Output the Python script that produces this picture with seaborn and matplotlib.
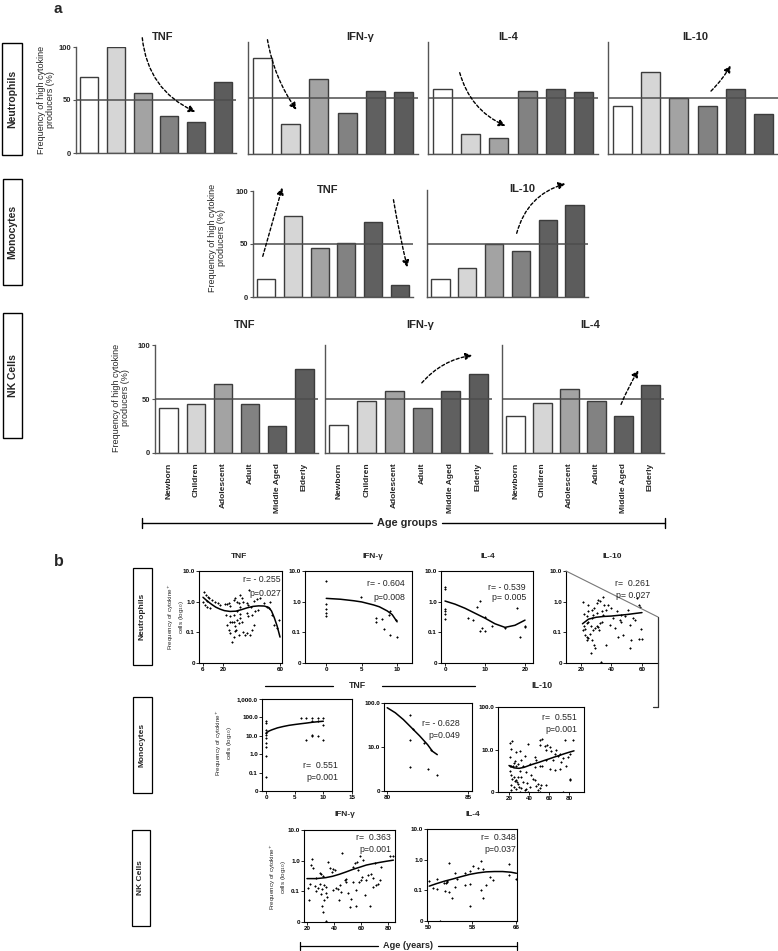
import numpy as np
import pandas as pd
import matplotlib
matplotlib.use("Agg")
import matplotlib.pyplot as plt
import seaborn as sns
from matplotlib.patches import Rectangle, FancyArrowPatch
from matplotlib.lines import Line2D

sns.set_theme(style="white")
plt.rcParams['font.family'] = ['Liberation Sans', 'DejaVu Sans']

# ---------------- data : panel a ----------------
age_groups = ["Newborn", "Children", "Adolescent", "Adult", "Middle Aged", "Elderly"]
bar_colors = ["#ffffff", "#d6d6d6", "#a3a3a3", "#828282", "#606060", "#5c5c5c"]
threshold = 50
neut_tnf = [72, 100, 57, 35, 29, 67]
neut_ifn = [86, 27, 67, 37, 56, 55]
neut_il4 = [58, 18, 14, 56, 58, 55]
neut_il10 = [43, 73, 50, 43, 58, 36]
mono_tnf = [17, 76, 46, 51, 71, 11]
mono_il10 = [17, 27, 50, 43, 72, 86]
nk_tnf = [42, 45, 64, 45, 25, 78]
nk_ifn = [26, 48, 57, 42, 57, 73]
nk_il4 = [34, 46, 59, 48, 34, 63]
pct_ticks = [0, 50, 100]

# ---------------- data : panel b ----------------
# Neutrophils TNF
nt_age = [7.0, 8.1, 9.3, 10.5, 6.3, 7.4, 9.1, 10.9, 8.6, 12.1, 14.5, 16.8, 18.0, 21.5, 22.7, 23.9, 25.0,
          27.4, 28.6, 29.7, 30.9, 31.6, 32.1, 33.2, 34.4, 36.8, 37.9, 39.6, 41.5, 43.8, 46.2, 48.5, 50.9,
          52.0, 53.2, 54.4, 55.5, 57.9, 59.1, 22.2, 22.7, 23.9, 25.0, 26.2, 27.4, 28.6, 29.3, 29.7, 30.9,
          32.1, 33.2, 34.4, 35.6, 36.8, 39.1, 40.3, 41.5, 25.0, 26.2, 27.4, 28.6, 30.9, 37.9, 32.1, 36.8,
          40.3, 42.7, 44.3, 29.7, 27.4, 25.0, 38.5]
nt_val = [2.03, 1.66, 1.39, 1.29, 1.01, 0.79, 0.69, 0.61, 1.09, 1.14, 1.01, 0.89, 0.79, 0.83, 0.85, 0.89, 0.73,
          1.14, 1.29, 1.01, 0.89, 0.69, 1.66, 1.29, 1.01, 0.89, 0.79, 0.69, 1.09, 1.2, 1.29, 0.89, 0.69,
          0.61, 1.01, 0.37, 0.176, 0.137, 0.255, 0.37, 0.176, 0.121, 0.225, 0.21, 0.225, 0.155, 0.121, 0.255, 0.2,
          0.29, 0.225, 0.099, 0.083, 0.094, 0.083, 0.121, 0.176, 0.094, 0.05, 0.073, 0.107, 0.083, 0.33, 0.40, 0.42,
          0.37, 0.48, 0.54, 0.48, 0.37, 0.33, 2.4]
nt_fit_age = [6, 9, 12, 15, 18, 21, 25, 29, 33, 37, 41, 45, 49, 52, 54, 56, 58, 60]
nt_fit_val = [1.39, 1.05, 0.82, 0.66, 0.57, 0.51, 0.48, 0.49, 0.55, 0.63, 0.7, 0.73, 0.72, 0.65, 0.5, 0.3, 0.16, 0.07]

# Neutrophils IFN-g
ni_age = [0, 0, 0, 0, 0, 7, 7, 7.9, 8.1, 8.8, 9, 9, 9.8, 10, 4.9]
ni_val = [4.7, 0.85, 0.58, 0.44, 0.35, 0.29, 0.22, 0.27, 0.126, 0.36, 0.5, 0.079, 0.26, 0.069, 1.38]
ni_fit_age = [0, 2, 3.9, 5, 6.7, 7.5, 8.6, 9.3, 10]
ni_fit_val = [1.28, 1.2, 1.07, 0.98, 0.78, 0.68, 0.5, 0.38, 0.22]

# Neutrophils IL-4
n4_age = [0, 0, 0, 0, 0, 0, 5.8, 7.1, 7.9, 8.75, 8.75, 9.2, 10, 10, 11.7, 15, 17.9, 18.75, 20, 20]
n4_val = [3.1, 2.54, 0.57, 0.48, 0.40, 0.27, 0.29, 0.255, 0.69, 1.09, 0.107, 0.137, 0.107, 0.31, 0.163,
          0.137, 0.61, 0.073, 0.163, 0.144]
n4_fit_age = [0, 2.5, 5, 7.5, 10, 12.5, 15, 17.5, 20]
n4_fit_val = [1.05, 0.83, 0.61, 0.42, 0.29, 0.19, 0.145, 0.17, 0.25]

# Neutrophils IL-10
n10_age = [21.5, 24.3, 22.2, 24.8, 27.0, 28.7, 30.2, 31.3, 32.4, 34.6, 35.2, 33.5, 30.2, 28.0, 27.0, 24.8,
           23.7, 22.2, 21.1, 22.6, 23.7, 24.8, 25.9, 27.0, 28.0, 29.1, 30.2, 31.3, 32.0, 32.4, 33.5, 28.5,
           26.3, 29.1, 36.7, 37.8, 40.0, 41.1, 43.3, 44.3, 45.4, 46.5, 47.6, 48.7, 50.9, 52.0, 53.0, 54.1,
           55.2, 56.7, 58.5, 59.6, 58.0, 59.8, 52.0, 46.5, 36.7, 34.6, 38.9, 42.2, 23.7, 26.3, 22.8, 24.1,
           33.3, 58.0]
n10_val = [1.01, 0.79, 0.40, 0.48, 0.52, 0.61, 0.89, 1.14, 1.09, 1.39, 0.79, 0.48, 0.42, 0.37, 0.29, 0.225,
           0.2, 0.163, 0.121, 0.083, 0.073, 0.065, 0.086, 0.057, 0.121, 0.137, 0.163, 0.15, 0.121, 0.2, 0.225, 0.039,
           0.021, 0.031, 0.54, 0.79, 0.61, 0.29, 0.48, 0.073, 0.255, 0.37, 0.083, 0.33, 0.54, 0.176, 0.057, 0.29,
           0.255, 1.29, 0.69, 0.127, 0.062, 0.062, 0.031, 0.225, 0.039, 0.37, 0.176, 0.137, 0.33, 0.163, 0.127, 0.057,
           0.011, 0.79]
n10_fit_age = [21, 25, 30, 35, 40, 45, 50, 55, 60]
n10_fit_val = [0.19, 0.27, 0.31, 0.33, 0.34, 0.36, 0.38, 0.41, 0.44]

# Monocytes TNF (young)
mt_age = [0, 0, 0, 0, 0, 0, 0, 0, 0, 0, 6.1, 7, 8, 8, 9, 9, 9.9, 9.9, 7, 8.1, 8.1, 9.1, 10]
mt_val = [66, 49, 21, 14, 11.3, 7.5, 4.0, 2.6, 0.81, 0.056, 92, 92, 92, 60, 92, 60, 92, 40, 5.6, 10.5, 9.2,
          9.2, 6.05]
mt_fit_age = [0, 0.5, 1, 2, 3, 4, 5, 6, 7, 8, 9, 10]
mt_fit_val = [14, 18, 21, 27, 32, 37, 41, 45, 49, 54, 58, 62]

# Monocytes TNF (elderly)
me_age = [81.4, 81.6, 81.4, 82.25, 82.7, 81.4, 82.5, 83.1]
me_val = [52, 26, 14.7, 12.4, 8.7, 3.6, 3.1, 2.3]
me_fit_age = [80, 80.5, 81, 81.5, 82, 82.5, 82.8, 83.1]
me_fit_val = [78, 60, 42, 27.5, 18, 11.3, 8.0, 6.7]

# Monocytes IL-10
m10_age = [20.7, 23.3, 22.3, 21.3, 20.7, 22.3, 24, 24.7, 25.7, 27.3, 29, 21.3, 22.3, 23.3, 24.7, 25.7, 26.7,
           28, 29, 22.3, 24.7, 26.7, 30, 32.3, 35.7, 37.3, 40.7, 22.3, 30.7, 39, 49, 50.7, 30.7, 32.3, 34,
           36.7, 38, 42.3, 44, 45.7, 47.3, 49, 50.7, 52.3, 56.7, 27.3, 31.3, 35.7, 39, 45.7, 47.3, 50.7, 51.3,
           53.3, 55.7, 57.3, 58, 60.7, 62.3, 64, 65.7, 67.3, 69, 70.7, 72.3, 74, 75.7, 76.7, 79, 80.7, 81.3,
           84, 56.7, 50.7, 53.3, 60.7, 65.7, 70.7, 29, 34, 32.3, 40.7, 45.7, 74, 81.3]
m10_val = [14.2, 15.8, 10.5, 6.7, 4.2, 4.1, 4.2, 4.8, 5.4, 4.2, 4.6, 3.2, 2.5, 2.06, 2.25, 1.8, 1.95,
           1.72, 1.57, 1.44, 1.31, 1.2, 1.31, 1.26, 1.09, 1.2, 1.31, 1.09, 1.0, 1.0, 1.09, 1.0, 3.1, 2.25, 1.72,
           2.95, 1.63, 2.5, 2.06, 1.88, 1.36, 1.57, 1.26, 1.44, 1.49, 8.7, 9.2, 6.9, 13.7, 6.7, 5.8, 12.5, 16.4,
           18, 11.9, 9.55, 12.5, 11.5, 9.2, 5.6, 8.0, 9.55, 6.9, 8.0, 5.1, 6.4, 16.4, 4.2, 6.7, 2.06, 8.0,
           16.4, 5.6, 4.2, 4.2, 3.5, 3.35, 3.5, 2.25, 4.2, 5.6, 4.6, 3.9, 1.0, 1.95]
m10_fit_age = [20, 25, 30, 35, 40, 45, 50, 55, 60, 65, 70, 75, 80, 85]
m10_fit_val = [4.2, 3.7, 3.6, 3.8, 4.2, 4.6, 5.0, 5.5, 6.0, 6.6, 7.2, 7.9, 8.6, 9.3]

# NK cells IFN-g
ki_age = [20.7, 21.5, 22.5, 23.2, 24, 24.4, 25.7, 26.4, 26.9, 28.1, 29.4, 29.9, 30.6, 31.4, 31.9, 32.3, 33.8,
          34.3, 34.8, 30.6, 31.4, 31.9, 32.3, 34.3, 35.6, 36.8, 38.8, 39.3, 40.5, 41.7, 43, 43.7, 44.7, 45.4,
          46.2, 47.9, 49.1, 50.4, 51.6, 52.8, 54.1, 55.3, 56, 56.5, 57, 57.8, 58.5, 59, 60.2, 61, 61.5, 64,
          65.2, 66.4, 67.7, 68.9, 70.1, 71.4, 72.6, 73.8, 75.1, 81.2, 83.7, 39.3, 49.1, 54.1, 62.7, 68.9]
ki_val = [0.133, 0.054, 0.17, 0.72, 1.1, 0.56, 0.147, 0.104, 0.28, 0.124, 0.18, 0.40, 0.36, 0.115, 0.31, 0.16,
          0.14, 0.089, 0.063, 0.081, 0.033, 0.021, 0.051, 0.011, 0.92, 0.56, 0.43, 0.52, 0.49, 0.133, 0.115,
          0.051, 0.16, 0.096, 1.73, 0.23, 0.2, 0.085, 0.031, 0.058, 0.63, 0.85, 0.033, 0.109, 0.92, 0.49, 0.2,
          1.41, 0.23, 0.30, 1.04, 0.23, 0.34, 0.033, 0.36, 0.14, 0.85, 0.16, 0.18, 0.23, 0.63, 1.41, 1.41,
          0.109, 0.26, 0.2, 0.075, 0.28]
ki_fit_age = [20, 27, 34, 39, 44, 49, 54, 59, 64, 69, 74, 79, 84]
ki_fit_val = [0.26, 0.26, 0.28, 0.31, 0.36, 0.43, 0.52, 0.61, 0.72, 0.8, 0.88, 0.96, 1.04]

# NK cells IL-4
k4_age = [50.2, 50.8, 51.6, 51.6, 52.1, 52.9, 53, 53.4, 53.8, 53.8, 54.3, 54.9, 54.9, 55.2, 56.7, 56.7, 57.5,
          57.6, 57.6, 58.1, 59, 59.5, 59.5, 59.9, 59.9, 60.4, 61.3, 61.8, 64.6, 64.6, 66, 53.2, 53.5]
k4_val = [0.2, 0.122, 0.23, 0.107, 0.01, 0.168, 0.097, 0.19, 0.76, 0.09, 0.058, 0.36, 0.124, 0.228, 0.36,
          0.148, 0.43, 0.156, 0.03, 0.64, 0.55, 0.102, 0.93, 0.058, 0.50, 0.148, 0.28, 0.21, 0.71, 0.32, 0.228,
          0.177, 0.2]
k4_fit_age = [50.2, 51.5, 53, 54.5, 56, 57.5, 59, 60.5, 62, 63.5, 65, 66]
k4_fit_val = [0.137, 0.165, 0.2, 0.235, 0.28, 0.33, 0.37, 0.4, 0.41, 0.41, 0.39, 0.36]

log_ticks_small = [0.01, 0.1, 1, 10]
log_labels_small = ["0", "0.1", "1.0", "10.0"]
log_ticks_big = [0.01, 0.1, 1, 10, 100, 1000]
log_labels_big = ["0", "0.1", "1.0", "10.0", "100.0", "1,000.0"]
log_ticks_mid = [1, 10, 100]
log_labels_mid = ["0", "10.0", "100.0"]

# ---------------- figure helpers ----------------
W, H = 778, 951
fig = plt.figure(figsize=(W / 100, H / 100), dpi=100)
fig.patch.set_facecolor("white")


def px_ax(l, t, r, b):
    return fig.add_axes([l / W, 1 - b / H, (r - l) / W, (b - t) / H])


def ftxt(x, y, s, **kw):
    kw.setdefault('ha', 'center')
    kw.setdefault('va', 'center')
    return fig.text(x / W, 1 - y / H, s, **kw)


def fline(xs, ys, **kw):
    kw.setdefault('color', 'black')
    kw.setdefault('lw', 1)
    fig.add_artist(Line2D([x / W for x in xs], [1 - y / H for y in ys], transform=fig.transFigure, **kw))


def fbox(l, t, r, b, lw=1.0):
    fig.add_artist(Rectangle((l / W, 1 - b / H), (r - l) / W, (b - t) / H, transform=fig.transFigure,
                             fill=False, edgecolor='black', lw=lw))


def farrow(x1, y1, x2, y2, rad):
    fig.add_artist(FancyArrowPatch((x1 / W, 1 - y1 / H), (x2 / W, 1 - y2 / H), transform=fig.transFigure,
                                   arrowstyle='-|>', mutation_scale=10,
                                   connectionstyle=f'arc3,rad={rad}', linestyle=(0, (2.2, 1.6)),
                                   lw=1.0, color='black'))


def bar_panel(box, vals, first=False, xlabels=False):
    ax = px_ax(*box)
    df = pd.DataFrame({'group': age_groups, 'pct': vals})
    sns.barplot(data=df, x='group', y='pct', hue='group', palette=bar_colors, legend=False,
                width=0.68, saturation=1, edgecolor='#3c3c3c', linewidth=1.0, ax=ax)
    ax.axhline(threshold, color='#4d4d4d', lw=1.1, zorder=5)
    ax.set_xlim(-0.5, 5.5)
    ax.set_ylim(0, 100)
    ax.set_xlabel('')
    ax.set_ylabel('')
    ax.set_facecolor('none')
    for s in ['top', 'right']:
        ax.spines[s].set_visible(False)
    for s in ['left', 'bottom']:
        ax.spines[s].set_color('#555555')
        ax.spines[s].set_linewidth(1.0)
    if first:
        ax.set_yticks(pct_ticks)
        ax.set_yticklabels([str(v) for v in pct_ticks], fontsize=5.5, fontweight='bold')
        ax.tick_params(axis='y', length=2.5, width=0.8, pad=1, left=True, color='#555555')
    else:
        ax.set_yticks([])
    if xlabels:
        ax.set_xticks(range(len(age_groups)))
        ax.set_xticklabels(age_groups, rotation=90, fontsize=6, fontweight='bold', va='top')
        ax.tick_params(axis='x', length=0, pad=7)
    else:
        ax.set_xticks([])
    return ax


def scatter_panel(box, x, y, fx, fy, xlim, ylim, xticks, yticks, yticklabels, full_box=True):
    ax = px_ax(*box)
    sns.scatterplot(x=x, y=y, marker='+', s=4, color='black', linewidth=0.8, ax=ax, zorder=3)
    sns.lineplot(x=fx, y=fy, color='black', lw=1.1, ax=ax, estimator=None, zorder=4)
    ax.set_yscale('log')
    ax.set_xlim(*xlim)
    ax.set_ylim(*ylim)
    ax.minorticks_off()
    ax.set_xticks(xticks)
    ax.set_xticklabels([str(v) for v in xticks], fontsize=4.5, fontweight='bold')
    ax.set_yticks(yticks)
    ax.set_yticklabels(yticklabels, fontsize=4.5, fontweight='bold')
    ax.tick_params(which='both', direction='out', length=2, width=0.6, pad=1, bottom=True, left=True,
                   top=False, right=False, colors='black')
    ax.set_xlabel('')
    ax.set_ylabel('')
    for s in ax.spines.values():
        s.set_color('black')
        s.set_linewidth(0.8)
    if not full_box:
        ax.spines['top'].set_visible(False)
        ax.spines['right'].set_visible(False)
    ax.set_facecolor('none')
    return ax


# ---------------- panel a ----------------
ftxt(58, 9, "a", fontsize=11, fontweight='bold')
ylab_a = "Frequency of high cytokine\nproducers (%)"

# Neutrophils
fbox(2, 43, 22, 155)
ftxt(12, 99, "Neutrophils", rotation=90, fontsize=7.5, fontweight='bold')
ftxt(46, 100, ylab_a, rotation=90, fontsize=6.5, linespacing=1.1)
bar_panel((76, 47, 236, 153), neut_tnf, first=True)
bar_panel((248, 42, 418, 154), neut_ifn)
bar_panel((428, 42, 598, 154), neut_il4)
bar_panel((608, 42, 778, 154), neut_il10)
ftxt(163, 37, "TNF", fontsize=8, fontweight='bold')
ftxt(360, 37, "IFN-γ", fontsize=8, fontweight='bold')
ftxt(508, 37, "IL-4", fontsize=8, fontweight='bold')
ftxt(695, 37, "IL-10", fontsize=8, fontweight='bold')
farrow(142, 35, 198, 113, 0.3)
farrow(267, 37, 298, 112, 0.12)
farrow(459, 70, 508, 127, 0.25)
farrow(709, 93, 732, 63, 0.08)

# Monocytes
fbox(3, 179, 22, 285)
ftxt(12.5, 232, "Monocytes", rotation=90, fontsize=7.5, fontweight='bold')
ftxt(217, 238, ylab_a, rotation=90, fontsize=6.5, linespacing=1.1)
bar_panel((253, 191, 413, 297), mono_tnf, first=True)
bar_panel((427, 190, 588, 297), mono_il10)
ftxt(328, 190, "TNF", fontsize=8, fontweight='bold')
ftxt(522, 189, "IL-10", fontsize=8, fontweight='bold')
farrow(262, 259, 283, 185, 0.0)
farrow(393, 197, 408, 270, 0.02)
farrow(516, 236, 568, 183, -0.3)

# NK cells
fbox(3, 313, 22, 438)
ftxt(12.5, 376, "NK Cells", rotation=90, fontsize=7.5, fontweight='bold')
ftxt(121, 398, ylab_a, rotation=90, fontsize=6.5, linespacing=1.1)
bar_panel((155, 345, 318, 453), nk_tnf, first=True, xlabels=True)
bar_panel((325, 345, 492, 453), nk_ifn, xlabels=True)
bar_panel((502, 345, 664, 453), nk_il4, xlabels=True)
ftxt(245, 325, "TNF", fontsize=8, fontweight='bold')
ftxt(420, 325, "IFN-γ", fontsize=8, fontweight='bold')
ftxt(590, 325, "IL-4", fontsize=8, fontweight='bold')
farrow(420, 385, 475, 355, -0.2)
farrow(620, 407, 640, 368, -0.05)

# Age groups bracket
fline([142, 372], [523, 523], lw=1.0)
fline([442, 665], [523, 523], lw=1.0)
fline([142, 142], [518, 528], lw=1.0)
fline([665, 665], [518, 528], lw=1.0)
ftxt(407, 523, "Age groups", fontsize=7.8, fontweight='bold')

# ---------------- panel b ----------------
ftxt(59, 562, "b", fontsize=11.5, fontweight='bold')
ylab_b = "Frequency of cytokine$^{+}$\ncells (log$_{10}$)"

# Neutrophils row
fbox(133, 568, 152, 665, lw=0.9)
ftxt(142.5, 616, "Neutrophils", rotation=90, fontsize=6, fontweight='bold')
ftxt(176, 617, ylab_b, rotation=90, fontsize=4.5, linespacing=1.1)
scatter_panel((199, 571, 282, 663), nt_age, nt_val, nt_fit_age, nt_fit_val, (3.2, 61.4), (0.01, 10),
              [6, 20, 60], log_ticks_small, log_labels_small)
scatter_panel((305, 571, 412, 663), ni_age, ni_val, ni_fit_age, ni_fit_val, (-3, 12.1), (0.01, 10),
              [0, 5, 10], log_ticks_small, log_labels_small)
scatter_panel((441, 571, 533, 663), n4_age, n4_val, n4_fit_age, n4_fit_val, (-1, 22), (0.01, 10),
              [0, 10, 20], log_ticks_small, log_labels_small)
scatter_panel((566, 571, 658, 663), n10_age, n10_val, n10_fit_age, n10_fit_val, (10.2, 70.5), (0.01, 10),
              [20, 40, 60], log_ticks_small, log_labels_small, full_box=False)
fline([566, 658], [571, 617], color='#777777', lw=0.8)
fline([658, 658], [617, 707], color='#333333', lw=0.9)
fline([653, 658], [707, 707], color='#333333', lw=0.9)
ftxt(239, 557, "TNF", fontsize=6, fontweight='bold')
ftxt(373, 557, "IFN-γ", fontsize=6, fontweight='bold')
ftxt(488, 557, "IL-4", fontsize=6, fontweight='bold')
ftxt(612, 557, "IL-10", fontsize=6, fontweight='bold')
rp = dict(fontsize=6.3, ha='right')
ftxt(281, 579, "r= - 0.255", **rp)
ftxt(281, 593, "p=0.027", **rp)
ftxt(405, 583, "r= - 0.604", **rp)
ftxt(405, 598, "p=0.008", **rp)
ftxt(526, 587, "r= - 0.539", **rp)
ftxt(526, 598, "p= 0.005", **rp)
ftxt(650, 583, "r=  0.261", **rp)
ftxt(650, 595, "p= 0.027", **rp)

# divider headers
fline([265, 333], [686, 686], lw=0.9)
fline([382, 475], [686, 686], lw=0.9)
ftxt(357, 686, "TNF", fontsize=6.3, fontweight='bold')
ftxt(542, 686, "IL-10", fontsize=6.5, fontweight='bold')

# Monocytes row
fbox(133, 697, 152, 793, lw=0.9)
ftxt(142.5, 745, "Monocytes", rotation=90, fontsize=6, fontweight='bold')
ftxt(224, 743, ylab_b, rotation=90, fontsize=4.5, linespacing=1.1)
scatter_panel((262, 699, 352, 791), mt_age, mt_val, mt_fit_age, mt_fit_val, (-0.7, 15), (0.01, 1000),
              [0, 5, 10, 15], log_ticks_big, log_labels_big)
scatter_panel((384, 703, 472, 791), me_age, me_val, me_fit_age, me_fit_val, (79.8, 85.25), (1, 100),
              [80, 85], log_ticks_mid, log_labels_mid)
scatter_panel((498, 707, 584, 792), m10_age, m10_val, m10_fit_age, m10_fit_val, (9, 95), (1, 100),
              [20, 40, 60, 80], log_ticks_mid, log_labels_mid)
ftxt(338, 765, "r=  0.551", **rp)
ftxt(338, 777, "p=0.001", **rp)
ftxt(460, 723, "r= - 0.628", **rp)
ftxt(460, 735, "p=0.049", **rp)
ftxt(577, 718, "r=  0.551", **rp)
ftxt(577, 730, "p=0.001", **rp)

# NK row
fbox(132, 830, 150, 926, lw=0.9)
ftxt(141, 878, "NK Cells", rotation=90, fontsize=6, fontweight='bold')
ftxt(278, 877, ylab_b, rotation=90, fontsize=4.5, linespacing=1.1)
scatter_panel((304, 830, 395, 922), ki_age, ki_val, ki_fit_age, ki_fit_val, (17.8, 85.2), (0.01, 10),
              [20, 40, 60, 80], log_ticks_small, log_labels_small)
scatter_panel((427, 829, 517, 921), k4_age, k4_val, k4_fit_age, k4_fit_val, (49.8, 66.1), (0.01, 10),
              [50, 58, 66], log_ticks_small, log_labels_small)
ftxt(345, 815, "IFN-γ", fontsize=6, fontweight='bold')
ftxt(473, 815, "IL-4", fontsize=6, fontweight='bold')
ftxt(391, 838, "r=  0.363", **rp)
ftxt(391, 849, "p=0.001", **rp)
ftxt(516, 838, "r=  0.348", **rp)
ftxt(516, 849, "p=0.037", **rp)

# Age (years) bracket
fline([300, 378], [946, 946], lw=0.9)
fline([438, 517], [946, 946], lw=0.9)
fline([300, 300], [942, 950], lw=0.9)
fline([517, 517], [942, 950], lw=0.9)
ftxt(408, 946, "Age (years)", fontsize=6.6, fontweight='bold')

fig.savefig("out.png", dpi=100, facecolor='white')
